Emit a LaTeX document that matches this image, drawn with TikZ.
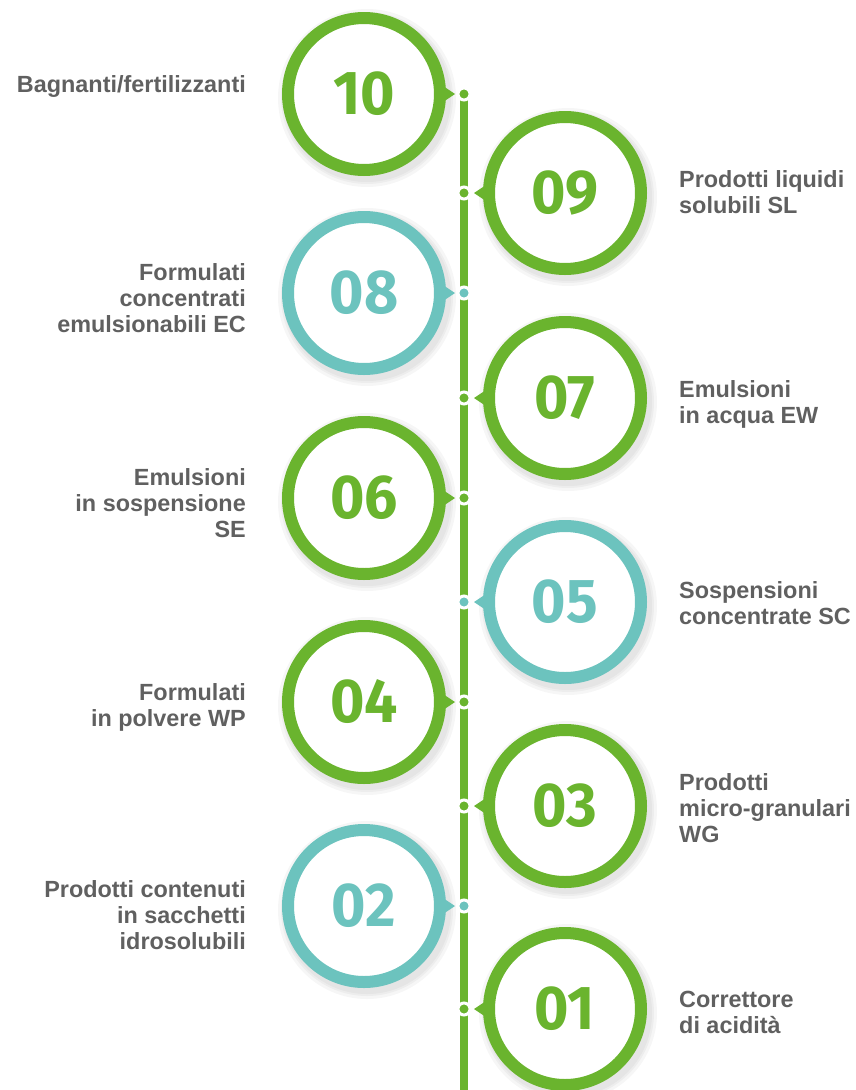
\documentclass[tikz,border=0pt]{standalone}
\usepackage{fontspec}
\setmainfont{Liberation Sans}
\newfontfamily\numfont{Fira Sans}[FakeStretch=0.95]
\definecolor{cgreen}{RGB}{106,180,46}
\definecolor{cteal}{RGB}{108,195,190}
\definecolor{ctext}{RGB}{96,96,96}
\newcommand\LabL[1]{\vtop{\halign{\hfil##\cr#1\crcr}}}
\newcommand\LabR[1]{\vtop{\halign{##\hfil\cr#1\crcr}}}
\tikzset{
  ring/.style={circle, draw=#1, line width=12pt, fill=white, minimum size=152pt,
    inner sep=0pt, text=#1, font=\numfont\bfseries\fontsize{62}{62}\selectfont},
  spot/.style={circle, fill=#1, draw=white, line width=3pt, minimum size=12pt, inner sep=0pt},
  spine/.style={draw=cgreen, line width=8pt},
  labl/.style={anchor=base east, inner sep=0pt, text=ctext,
    font=\bfseries\fontsize{23.4}{26}\selectfont},
  labr/.style={anchor=base west, inner sep=0pt, text=ctext,
    font=\bfseries\fontsize{23.4}{26}\selectfont},
  shade/.style={fill=black, opacity=0.035}
}
\begin{document}
\begin{tikzpicture}[x=1pt,y=-1pt]
\useasboundingbox (0,0) rectangle (855,1090);
% soft shadows
\foreach \cx/\cy in {364/94,565/193,364/293,565/398,364/498,565/602,364/702,565/806,364/906,565/1009}{
  \foreach \r in {89,86,84}{\fill[shade] (\cx+3,\cy+4) circle (\r);}
}
% spine
\coordinate (top) at (464,94);
\coordinate (bottom) at (464,1090);
\draw[spine] (top) -- (bottom);
% items
\foreach \n/\cx/\cy/\col/\s in {10/364/94/cgreen/1,09/565/193/cgreen/-1,08/364/293/cteal/1,07/565/398/cgreen/-1,06/364/498/cgreen/1,05/565/602/cteal/-1,04/364/702/cgreen/1,03/565/806/cgreen/-1,02/364/906/cteal/1,01/565/1009/cgreen/-1}{
  \node[ring=\col] (c\n) at (\cx,\cy) {\n};
  \fill[\col] (\cx+\s*79,\cy-8) -- (\cx+\s*91,\cy) -- (\cx+\s*79,\cy+8) -- cycle;
  \node[spot=\col] (d\n) at (464,\cy) {};
}
% labels
\node[labl] (l10) at (246,92) {\LabL{Bagnanti/fertilizzanti}};
\node[labl] (l08) at (246,280) {\LabL{Formulati\cr concentrati\cr emulsionabili EC}};
\node[labl] (l06) at (246,485) {\LabL{Emulsioni\cr in sospensione\cr SE}};
\node[labl] (l04) at (246,700) {\LabL{Formulati\cr in polvere WP}};
\node[labl] (l02) at (246,897) {\LabL{Prodotti contenuti\cr in sacchetti\cr idrosolubili}};
\node[labr] (l09) at (679,187) {\LabR{Prodotti liquidi\cr solubili SL}};
\node[labr] (l07) at (679,397) {\LabR{Emulsioni\cr in acqua EW}};
\node[labr] (l05) at (679,598) {\LabR{Sospensioni\cr concentrate SC}};
\node[labr] (l03) at (679,790) {\LabR{Prodotti\cr micro-granulari\cr WG}};
\node[labr] (l01) at (679,1007) {\LabR{Correttore\cr di acidità}};
\end{tikzpicture}
\end{document}
